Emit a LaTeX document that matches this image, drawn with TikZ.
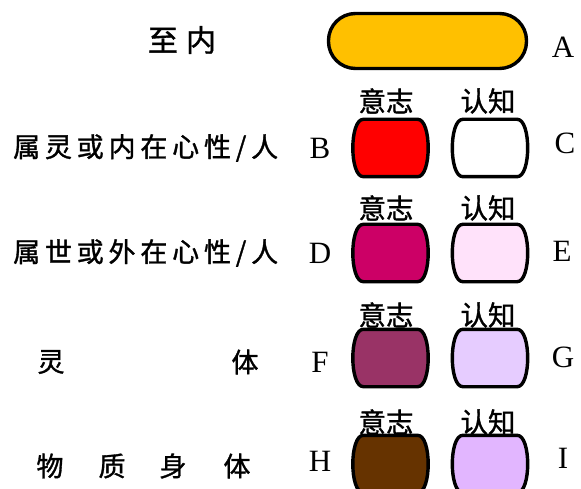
\documentclass[tikz,border=0pt]{standalone}
\usepackage{fontspec}
\setmainfont{Liberation Serif}
\newfontfamily\cjk[FakeBold=1.2]{Noto Sans CJK SC}
\usetikzlibrary{calc}
\definecolor{cA}{HTML}{FFC000}
\definecolor{cB}{HTML}{FF0000}
\definecolor{cC}{HTML}{FFFFFF}
\definecolor{cD}{HTML}{CC0066}
\definecolor{cE}{HTML}{FFE2FA}
\definecolor{cF}{HTML}{993366}
\definecolor{cG}{HTML}{E6CCFF}
\definecolor{cH}{HTML}{663300}
\definecolor{cI}{HTML}{E2B6FF}
\tikzset{
  boxslot/.style={minimum width=74pt,minimum height=57pt,inner sep=0pt},
  boxline/.style={draw=black,line width=3.4pt,line join=round},
  letter/.style={font=\fontsize{31}{31}\selectfont,inner sep=0pt},
  headlbl/.style={font=\cjk\fontsize{27.5}{27.5}\selectfont,inner sep=0pt},
  sidelbl/.style={font=\cjk\fontsize{27}{27}\selectfont,inner sep=0pt},
  toplbl/.style={font=\cjk\fontsize{30}{30}\selectfont,inner sep=0pt},
}
\newcommand\barrelbox[2]{%
  \path[boxline,fill=#2]
    ($(#1.north west)+(10,0)$) -- ($(#1.north east)+(-10,0)$)
    .. controls ($(#1.north east)+(4,0)$) and ($(#1.south east)+(4,0)$) .. ($(#1.south east)+(-10,0)$)
    -- ($(#1.south west)+(10,0)$)
    .. controls ($(#1.south west)+(-4,0)$) and ($(#1.north west)+(-4,0)$) .. cycle;}
\newcommand\gapk{\kern4.8pt}
\begin{document}
\begin{tikzpicture}[x=1pt,y=-1pt]
\useasboundingbox (0,0) rectangle (581,489);
% top capsule
\node[boxline,fill=cA,rounded corners=27pt,minimum width=198pt,minimum height=55pt,inner sep=0pt] (A) at (427.5,41) {};
\node[letter] (lA) at (563,47) {A};
\node[toplbl] (t0) at (182,40) {至\kern8pt 内};
% box slots
\foreach \n/\x/\y in {B/390.5/148,C/490/148,D/390.5/253,E/490/253,F/390.5/358,G/490/358,H/390.5/464,I/490/464}
  \node[boxslot] (\n) at (\x,\y) {};
\barrelbox{B}{cB}\barrelbox{C}{cC}
\barrelbox{D}{cD}\barrelbox{E}{cE}
\barrelbox{F}{cF}\barrelbox{G}{cG}
\barrelbox{H}{cH}\barrelbox{I}{cI}
% head labels
\foreach \r/\y in {1/101,2/208,3/315,4/422}{
  \node[headlbl] (w\r) at (386,\y) {意志};
  \node[headlbl] (k\r) at (488,\y) {认知};
}
% letters
\node[letter] (lB) at (320,148) {B};
\node[letter] (lC) at (565,143) {C};
\node[letter] (lD) at (320,253) {D};
\node[letter] (lE) at (562,251) {E};
\node[letter] (lF) at (320,362) {F};
\node[letter] (lG) at (563,357) {G};
\node[letter] (lH) at (320,461) {H};
\node[letter] (lI) at (563,458) {I};
% left labels
\node[sidelbl,anchor=west] (s1) at (13,148) {属\gapk 灵\gapk 或\gapk 内\gapk 在\gapk 心\gapk 性\gapk /\gapk 人};
\node[sidelbl,anchor=west] (s2) at (13,253) {属\gapk 世\gapk 或\gapk 外\gapk 在\gapk 心\gapk 性\gapk /\gapk 人};
\node[sidelbl] (s3a) at (51,362) {灵};
\node[sidelbl] (s3b) at (245,362) {体};
\node[sidelbl] (s4a) at (50,466) {物};
\node[sidelbl] (s4b) at (112,466) {质};
\node[sidelbl] (s4c) at (173,466) {身};
\node[sidelbl] (s4d) at (237,466) {体};
\end{tikzpicture}
\end{document}
